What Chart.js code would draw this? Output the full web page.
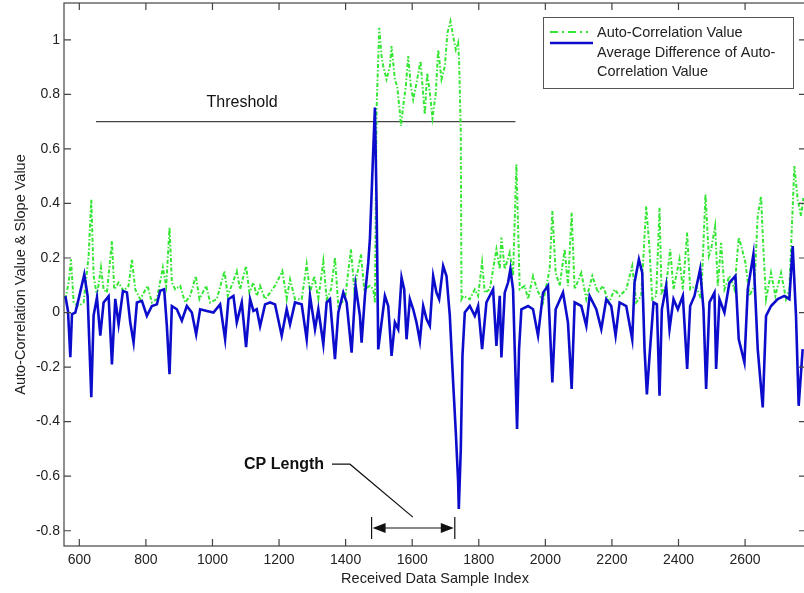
<!DOCTYPE html>
<html lang="en">
<head>
    <meta charset="UTF-8">
    <title>Auto-Correlation Value & Slope Value</title>
    <script src="https://cdn.jsdelivr.net/npm/chart.js@4"></script>
    <style>
        body { margin: 0; background: #fff; }
        .wrap { width: 804px; height: 593px; overflow: hidden; }
    </style>
</head>
<body>
    <div class="wrap"><canvas id="cpChart" width="810" height="593"></canvas></div>
    <script>
        const xTicks = [600, 800, 1000, 1200, 1400, 1600, 1800, 2000, 2200, 2400, 2600];
        const yTicks = [-0.8, -0.6, -0.4, -0.2, 0, 0.2, 0.4, 0.6, 0.8, 1];

        // auto-correlation (green, dash-dot)
        const acIndex = [558, 568, 575, 583, 598, 613, 628, 636, 643, 653, 665, 673, 683, 698, 705, 718, 733, 748, 758, 768,
            783, 805, 818, 833, 851, 861, 871, 878, 888, 903, 918, 933, 950, 961, 981, 993, 1013, 1036, 1046, 1061,
            1073, 1083, 1101, 1111, 1123, 1133, 1143, 1158, 1173, 1188, 1210, 1223, 1233, 1248, 1268, 1283, 1293, 1306, 1318, 1333,
            1343, 1356, 1368, 1378, 1398, 1416, 1426, 1446, 1456, 1473, 1483, 1488, 1493, 1501, 1508, 1513, 1523, 1533, 1538, 1548,
            1555, 1563, 1566, 1573, 1581, 1588, 1596, 1603, 1613, 1625, 1631, 1638, 1645, 1653, 1661, 1671, 1678, 1688, 1698, 1706,
            1715, 1723, 1731, 1738, 1741, 1746, 1748, 1753, 1773, 1788, 1798, 1810, 1818, 1833, 1853, 1863, 1868, 1878, 1893, 1903,
            1913, 1920, 1923, 1938, 1948, 1963, 1975, 1993, 2013, 2021, 2031, 2043, 2058, 2068, 2079, 2088, 2108, 2123, 2141, 2158,
            2173, 2191, 2208, 2223, 2243, 2261, 2273, 2288, 2303, 2313, 2321, 2333, 2343, 2349, 2363, 2375, 2385, 2403, 2413, 2426,
            2435, 2453, 2468, 2481, 2491, 2498, 2510, 2518, 2528, 2538, 2553, 2568, 2581, 2591, 2601, 2613, 2628, 2638, 2648, 2655,
            2663, 2678, 2691, 2708, 2723, 2733, 2748, 2758, 2768, 2775];
        const acValues = [0.049, 0.11, 0.195, 0.037, 0.024, 0.037, 0.207, 0.415, 0.134, 0.061, 0.165, 0.085, 0.073, 0.262, 0.085, 0.11, 0.079, 0.098, 0.195, 0.085,
            0.049, 0.098, 0.037, 0.049, 0.165, 0.098, 0.311, 0.11, 0.085, 0.098, 0.037, 0.061, 0.134, 0.049, 0.098, 0.037, 0.049, 0.152, 0.061, 0.11,
            0.152, 0.085, 0.171, 0.073, 0.11, 0.061, 0.098, 0.049, 0.073, 0.098, 0.152, 0.049, 0.122, 0.049, 0.049, 0.177, 0.073, 0.134, 0.049, 0.189,
            0.049, 0.085, 0.201, 0.024, 0.049, 0.232, 0.085, 0.214, 0.085, 0.098, 0.085, 0.037, 0.745, 1.044, 0.94, 0.903, 0.855, 0.903, 0.977, 0.855,
            0.83, 0.733, 0.684, 0.757, 0.83, 0.94, 0.83, 0.781, 0.842, 0.922, 0.83, 0.726, 0.879, 0.806, 0.714, 0.806, 0.964, 0.855, 0.903, 1.026,
            1.068, 1.013, 0.964, 0.989, 0.916, 0.66, 0.049, 0.061, 0.049, 0.085, 0.061, 0.183, 0.073, 0.085, 0.232, 0.159, 0.275, 0.159, 0.22, 0.134,
            0.543, 0.232, 0.085, 0.098, 0.049, 0.134, 0.085, 0.037, 0.159, 0.372, 0.146, 0.098, 0.232, 0.098, 0.366, 0.085, 0.146, 0.049, 0.134, 0.073,
            0.098, 0.037, 0.085, 0.061, 0.085, 0.171, 0.037, 0.061, 0.39, 0.232, 0.049, 0.061, 0.384, 0.073, 0.098, 0.232, 0.085, 0.195, 0.085, 0.293,
            0.085, 0.098, 0.049, 0.433, 0.207, 0.232, 0.317, 0.098, 0.256, 0.085, 0.134, 0.085, 0.275, 0.232, 0.183, 0.061, 0.098, 0.354, 0.427, 0.232,
            0.049, 0.146, 0.061, 0.146, 0.049, 0.085, 0.537, 0.415, 0.354, 0.42];

        // average difference of auto-correlation (blue, solid)
        const diffIndex = [558, 566, 573, 578, 588, 598, 615, 625, 633, 636, 643, 653, 663, 673, 688, 698, 708, 718, 731, 743,
            753, 763, 773, 788, 803, 818, 833, 843, 855, 863, 871, 878, 893, 908, 923, 938, 951, 963, 983, 1003,
            1023, 1038, 1048, 1063, 1073, 1088, 1101, 1113, 1123, 1133, 1143, 1158, 1173, 1188, 1208, 1223, 1233, 1248, 1268, 1283,
            1293, 1308, 1318, 1333, 1343, 1353, 1368, 1378, 1393, 1403, 1418, 1430, 1443, 1448, 1458, 1468, 1473, 1480, 1488, 1493,
            1498, 1503, 1518, 1528, 1538, 1548, 1558, 1568, 1576, 1583, 1593, 1603, 1613, 1623, 1633, 1643, 1653, 1663, 1673, 1681,
            1693, 1703, 1713, 1723, 1731, 1738, 1740, 1746, 1751, 1758, 1773, 1788, 1798, 1810, 1823, 1843, 1853, 1863, 1868, 1878,
            1888, 1895, 1903, 1908, 1915, 1921, 1928, 1948, 1963, 1978, 1993, 2008, 2021, 2031, 2053, 2068, 2079, 2088, 2108, 2123,
            2133, 2153, 2168, 2183, 2198, 2211, 2223, 2243, 2261, 2268, 2281, 2291, 2298, 2305, 2313, 2325, 2335, 2343, 2350, 2363,
            2373, 2385, 2398, 2413, 2426, 2435, 2448, 2465, 2475, 2483, 2493, 2508, 2513, 2523, 2538, 2553, 2571, 2581, 2598, 2608,
            2625, 2638, 2653, 2663, 2678, 2698, 2718, 2733, 2743, 2753, 2761, 2773];
        const diffValues = [0.061, 0.006, -0.164, -0.006, 0.0, 0.05, 0.14, 0.06, -0.21, -0.31, -0.01, 0.055, -0.085, 0.037, 0.06, -0.19, 0.05, -0.043, 0.079, 0.074,
            -0.036, -0.11, 0.037, 0.043, -0.012, 0.024, 0.03, 0.08, 0.085, -0.05, -0.226, 0.024, 0.012, -0.03, 0.024, 0.0, -0.08, 0.012, 0.006, 0.0,
            0.03, -0.098, 0.049, 0.061, -0.036, 0.037, -0.127, 0.049, 0.006, 0.012, -0.05, 0.03, 0.037, 0.03, -0.085, 0.012, -0.043, 0.037, 0.03, -0.098,
            0.061, -0.061, 0.012, -0.116, 0.037, 0.049, -0.171, 0.0, 0.073, 0.037, -0.147, 0.098, -0.012, -0.11, 0.061, 0.183, 0.27, 0.5, 0.752, 0.4,
            -0.135, -0.085, 0.061, 0.024, -0.159, -0.036, -0.061, 0.128, 0.085, -0.098, 0.049, 0.012, -0.037, -0.104, 0.024, -0.024, -0.049, 0.134, 0.073, 0.049,
            0.171, 0.134, -0.012, -0.256, -0.44, -0.62, -0.72, -0.5, -0.159, 0.0, 0.024, -0.012, 0.024, -0.134, 0.037, 0.085, -0.122, 0.061, -0.165, 0.073,
            0.11, 0.159, 0.085, -0.134, -0.427, -0.134, 0.012, 0.024, 0.012, -0.085, 0.073, 0.098, -0.256, 0.012, 0.073, -0.037, -0.28, 0.037, 0.024, -0.049,
            0.061, 0.012, -0.061, 0.049, 0.024, -0.085, 0.037, 0.024, -0.098, 0.11, 0.195, 0.146, -0.134, -0.3, -0.159, 0.037, 0.03, -0.305, 0.012, 0.098,
            -0.061, 0.049, 0.012, 0.061, -0.207, 0.024, 0.061, 0.159, 0.012, -0.28, 0.037, 0.073, -0.207, 0.049, 0.0, 0.11, 0.134, -0.098, -0.183, 0.085,
            0.213, -0.134, -0.348, -0.012, 0.024, 0.049, 0.061, 0.049, 0.244, -0.012, -0.342, -0.134];

        const thresholdIndex = [650, 1910];
        const thresholdValue = 0.7;
        const cpStart = 1478;
        const cpEnd = 1728;

        const FONT = "'Liberation Sans', Arial, sans-serif";
        const GREEN = '#34e634';
        const BLUE = '#0c0ccc';

        const overlay = {
            id: 'overlay',
            afterDraw(chart) {
                const c = chart.ctx, a = chart.chartArea;
                const x = chart.scales.x, y = chart.scales.y;
                c.save();

                // axes box with inward ticks
                c.strokeStyle = '#444';
                c.lineWidth = 1.2;
                c.strokeRect(a.left, a.top, a.right - a.left, a.bottom - a.top);
                c.beginPath();
                xTicks.forEach(v => {
                    const px = x.getPixelForValue(v);
                    c.moveTo(px, a.bottom); c.lineTo(px, a.bottom - 7);
                    c.moveTo(px, a.top); c.lineTo(px, a.top + 7);
                });
                yTicks.forEach(v => {
                    const py = y.getPixelForValue(v);
                    c.moveTo(a.left, py); c.lineTo(a.left + 7, py);
                    c.moveTo(a.right, py); c.lineTo(a.right - 7, py);
                });
                c.stroke();

                // threshold label
                c.fillStyle = '#111';
                c.font = '16px ' + FONT;
                c.textAlign = 'center';
                c.textBaseline = 'middle';
                c.fillText('Threshold', x.getPixelForValue(1089), y.getPixelForValue(thresholdValue) - 19);

                // CP length annotation
                const ay = y.getPixelForValue(-0.79);
                const x1 = x.getPixelForValue(cpStart), x2 = x.getPixelForValue(cpEnd);
                c.font = 'bold 16px ' + FONT;
                c.fillText('CP Length', x.getPixelForValue(1215), y.getPixelForValue(-0.556));
                c.strokeStyle = '#111';
                c.lineWidth = 1.2;
                c.beginPath();
                c.moveTo(x.getPixelForValue(1359), y.getPixelForValue(-0.556));
                c.lineTo(x.getPixelForValue(1413), y.getPixelForValue(-0.556));
                c.lineTo(x.getPixelForValue(1602), y.getPixelForValue(-0.75));
                c.moveTo(x1, ay - 11); c.lineTo(x1, ay + 11);
                c.moveTo(x2, ay - 11); c.lineTo(x2, ay + 11);
                c.moveTo(x1 + 10, ay); c.lineTo(x2 - 10, ay);
                c.stroke();
                c.beginPath();
                c.moveTo(x1 + 1, ay); c.lineTo(x1 + 14, ay - 5); c.lineTo(x1 + 14, ay + 5); c.closePath();
                c.moveTo(x2 - 1, ay); c.lineTo(x2 - 14, ay - 5); c.lineTo(x2 - 14, ay + 5); c.closePath();
                c.fill();

                // legend
                const lx = a.right - 263, ly = a.top + 14;
                c.fillStyle = '#fff';
                c.fillRect(lx, ly, 250, 71);
                c.strokeStyle = '#555';
                c.lineWidth = 1;
                c.strokeRect(lx + 0.5, ly + 0.5, 250, 71);
                c.lineWidth = 2;
                c.strokeStyle = GREEN;
                c.setLineDash([8, 4, 2, 4]);
                c.beginPath(); c.moveTo(lx + 7, ly + 15); c.lineTo(lx + 45, ly + 15); c.stroke();
                c.setLineDash([]);
                c.strokeStyle = BLUE;
                c.lineWidth = 2.5;
                c.beginPath(); c.moveTo(lx + 7, ly + 26); c.lineTo(lx + 50, ly + 26); c.stroke();
                c.fillStyle = '#222';
                c.font = '14.5px ' + FONT;
                c.textAlign = 'left';
                c.fillText('Auto-Correlation Value', lx + 54, ly + 16);
                c.fillText('Average Difference of Auto-', lx + 54, ly + 36);
                c.fillText('Correlation Value', lx + 54, ly + 55);
                c.restore();
            }
        };

        new Chart(document.getElementById('cpChart'), {
            type: 'line',
            data: {
                datasets: [{
                    label: 'Average Difference of Auto-Correlation Value',
                    data: diffIndex.map((v, i) => ({ x: v, y: diffValues[i] })),
                    borderColor: BLUE,
                    borderWidth: 2.6,
                    pointRadius: 0,
                    tension: 0,
                    order: 0
                }, {
                    label: 'Auto-Correlation Value',
                    data: acIndex.map((v, i) => ({ x: v, y: acValues[i] })),
                    borderColor: GREEN,
                    borderWidth: 2,
                    borderDash: [4, 2, 1.5, 2],
                    pointRadius: 0,
                    tension: 0,
                    order: 1
                }, {
                    label: 'Threshold',
                    data: thresholdIndex.map(v => ({ x: v, y: thresholdValue })),
                    borderColor: '#444',
                    borderWidth: 1.2,
                    pointRadius: 0,
                    order: 2
                }]
            },
            options: {
                responsive: false,
                animation: false,
                layout: { padding: { top: 3, right: 4, left: 0, bottom: 0 } },
                plugins: { legend: { display: false }, tooltip: { enabled: false } },
                scales: {
                    x: {
                        type: 'linear',
                        min: 554,
                        max: 2783,
                        afterBuildTicks: s => { s.ticks = xTicks.map(v => ({ value: v })); },
                        afterFit: s => { s.height = 47; s.paddingLeft = 0; s.paddingRight = 0; },
                        grid: { display: false, drawTicks: false },
                        border: { display: false },
                        ticks: {
                            autoSkip: false, maxRotation: 0, padding: 6, color: '#222',
                            font: { family: FONT, size: 14 },
                            callback: v => String(v)
                        },
                        title: {
                            display: true, text: 'Received Data Sample Index', color: '#222',
                            font: { family: FONT, size: 14.5 }, padding: { top: 0, bottom: 5 }
                        }
                    },
                    y: {
                        min: -0.856,
                        max: 1.135,
                        afterBuildTicks: s => { s.ticks = yTicks.map(v => ({ value: v })); },
                        afterFit: s => { s.width = 64; s.paddingTop = 0; s.paddingBottom = 0; },
                        grid: { display: false, drawTicks: false },
                        border: { display: false },
                        ticks: {
                            padding: 4, color: '#222',
                            font: { family: FONT, size: 14 },
                            callback: v => String(Math.round(v * 10) / 10)
                        },
                        title: {
                            display: true, text: 'Auto-Correlation Value & Slope Value', color: '#222',
                            font: { family: FONT, size: 14.5 }, padding: { top: 12, bottom: 0 }
                        }
                    }
                }
            },
            plugins: [overlay]
        });
    </script>
</body>
</html>
